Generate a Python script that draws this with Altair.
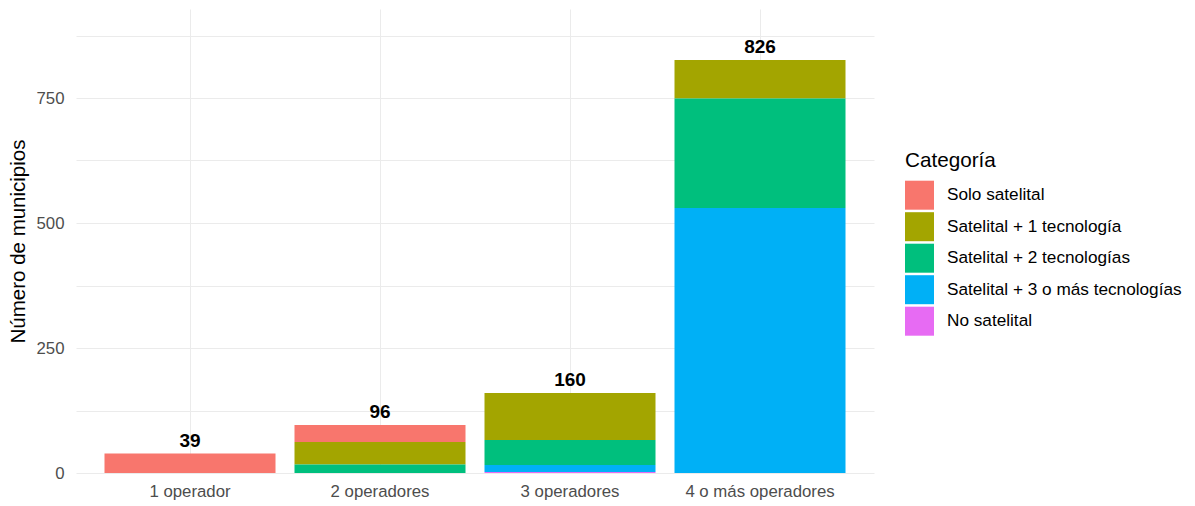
import altair as alt
import pandas as pd

categorias = ["Solo satelital", "Satelital + 1 tecnología", "Satelital + 2 tecnologías",
              "Satelital + 3 o más tecnologías", "No satelital"]
colores = ["#F8766D", "#A3A500", "#00BF7D", "#00B0F6", "#E76BF3"]
grupos = ["1 operador", "2 operadores", "3 operadores", "4 o más operadores"]

# values per group, in the order of `categorias`
valores = {
    "1 operador":         [39, 0, 0, 0, 0],
    "2 operadores":       [34, 45, 17, 0, 0],
    "3 operadores":       [0, 94, 50, 14, 2],
    "4 o más operadores": [0, 77, 219, 530, 0],
}
totales = [39, 96, 160, 826]

rows = []
for g in grupos:
    for i, c in enumerate(categorias):
        v = valores[g][i]
        if v > 0:
            rows.append({"grupo": g, "categoria": c, "n": v, "rango": i})
df = pd.DataFrame(rows)
df_tot = pd.DataFrame({"grupo": grupos, "total": totales})

FONT = "Liberation Sans"

x = alt.X("grupo:N", sort=grupos, title=None,
          scale=alt.Scale(paddingInner=0.1, paddingOuter=0.15),
          axis=alt.Axis(labelAngle=0, labelFontSize=16.8, labelColor="#4D4D4D",
                        labelPadding=10, ticks=False, domain=False, grid=True,
                        gridColor="#EBEBEB", gridWidth=1, bandPosition=0.5,
                        labelFont=FONT))

bars = alt.Chart(df).mark_bar().encode(
    x=x,
    y=alt.Y("n:Q", stack="zero", title="Número de municipios",
            scale=alt.Scale(domain=[0, 928], nice=False, zero=True),
            axis=alt.Axis(values=[0, 125, 250, 375, 500, 625, 750, 875],
                          labelExpr="datum.value % 250 == 0 ? datum.label : ''",
                          labelFontSize=16.8, labelColor="#4D4D4D", labelPadding=12,
                          ticks=False, domain=False, gridColor="#EBEBEB", gridWidth=1,
                          titleFontSize=20.5, titleFontWeight="normal", titleColor="black",
                          titlePadding=8, labelFont=FONT, titleFont=FONT)),
    color=alt.Color("categoria:N", sort=categorias, title="Categoría",
                    scale=alt.Scale(domain=categorias, range=colores),
                    legend=alt.Legend(orient="none", legendX=829, legendY=142,
                                      symbolType="square", symbolSize=841,
                                      symbolStrokeWidth=0, symbolOpacity=1,
                                      labelFontSize=17.2, titleFontSize=20.7,
                                      titleFontWeight="normal", titleColor="black",
                                      labelColor="black", labelOffset=13,
                                      rowPadding=2.5, titlePadding=9,
                                      labelFont=FONT, titleFont=FONT,
                                      labelLimit=400)),
    order=alt.Order("rango:Q", sort="descending"),
)

labels = alt.Chart(df_tot).mark_text(fontWeight="bold", fontSize=19, baseline="bottom",
                                      dy=-3, color="black", font=FONT).encode(
    x=alt.X("grupo:N", sort=grupos),
    y=alt.Y("total:Q"),
    text=alt.Text("total:Q"),
)

chart = alt.layer(bars, labels).properties(
    width=798, height=464,
    background="white",
    autosize=alt.AutoSizeParams(type="none"),
    padding={"left": 68, "top": 1, "right": 312, "bottom": 29},
).configure_view(stroke=None)

chart.save("out.html", embed_options={"renderer": "svg", "actions": False})
